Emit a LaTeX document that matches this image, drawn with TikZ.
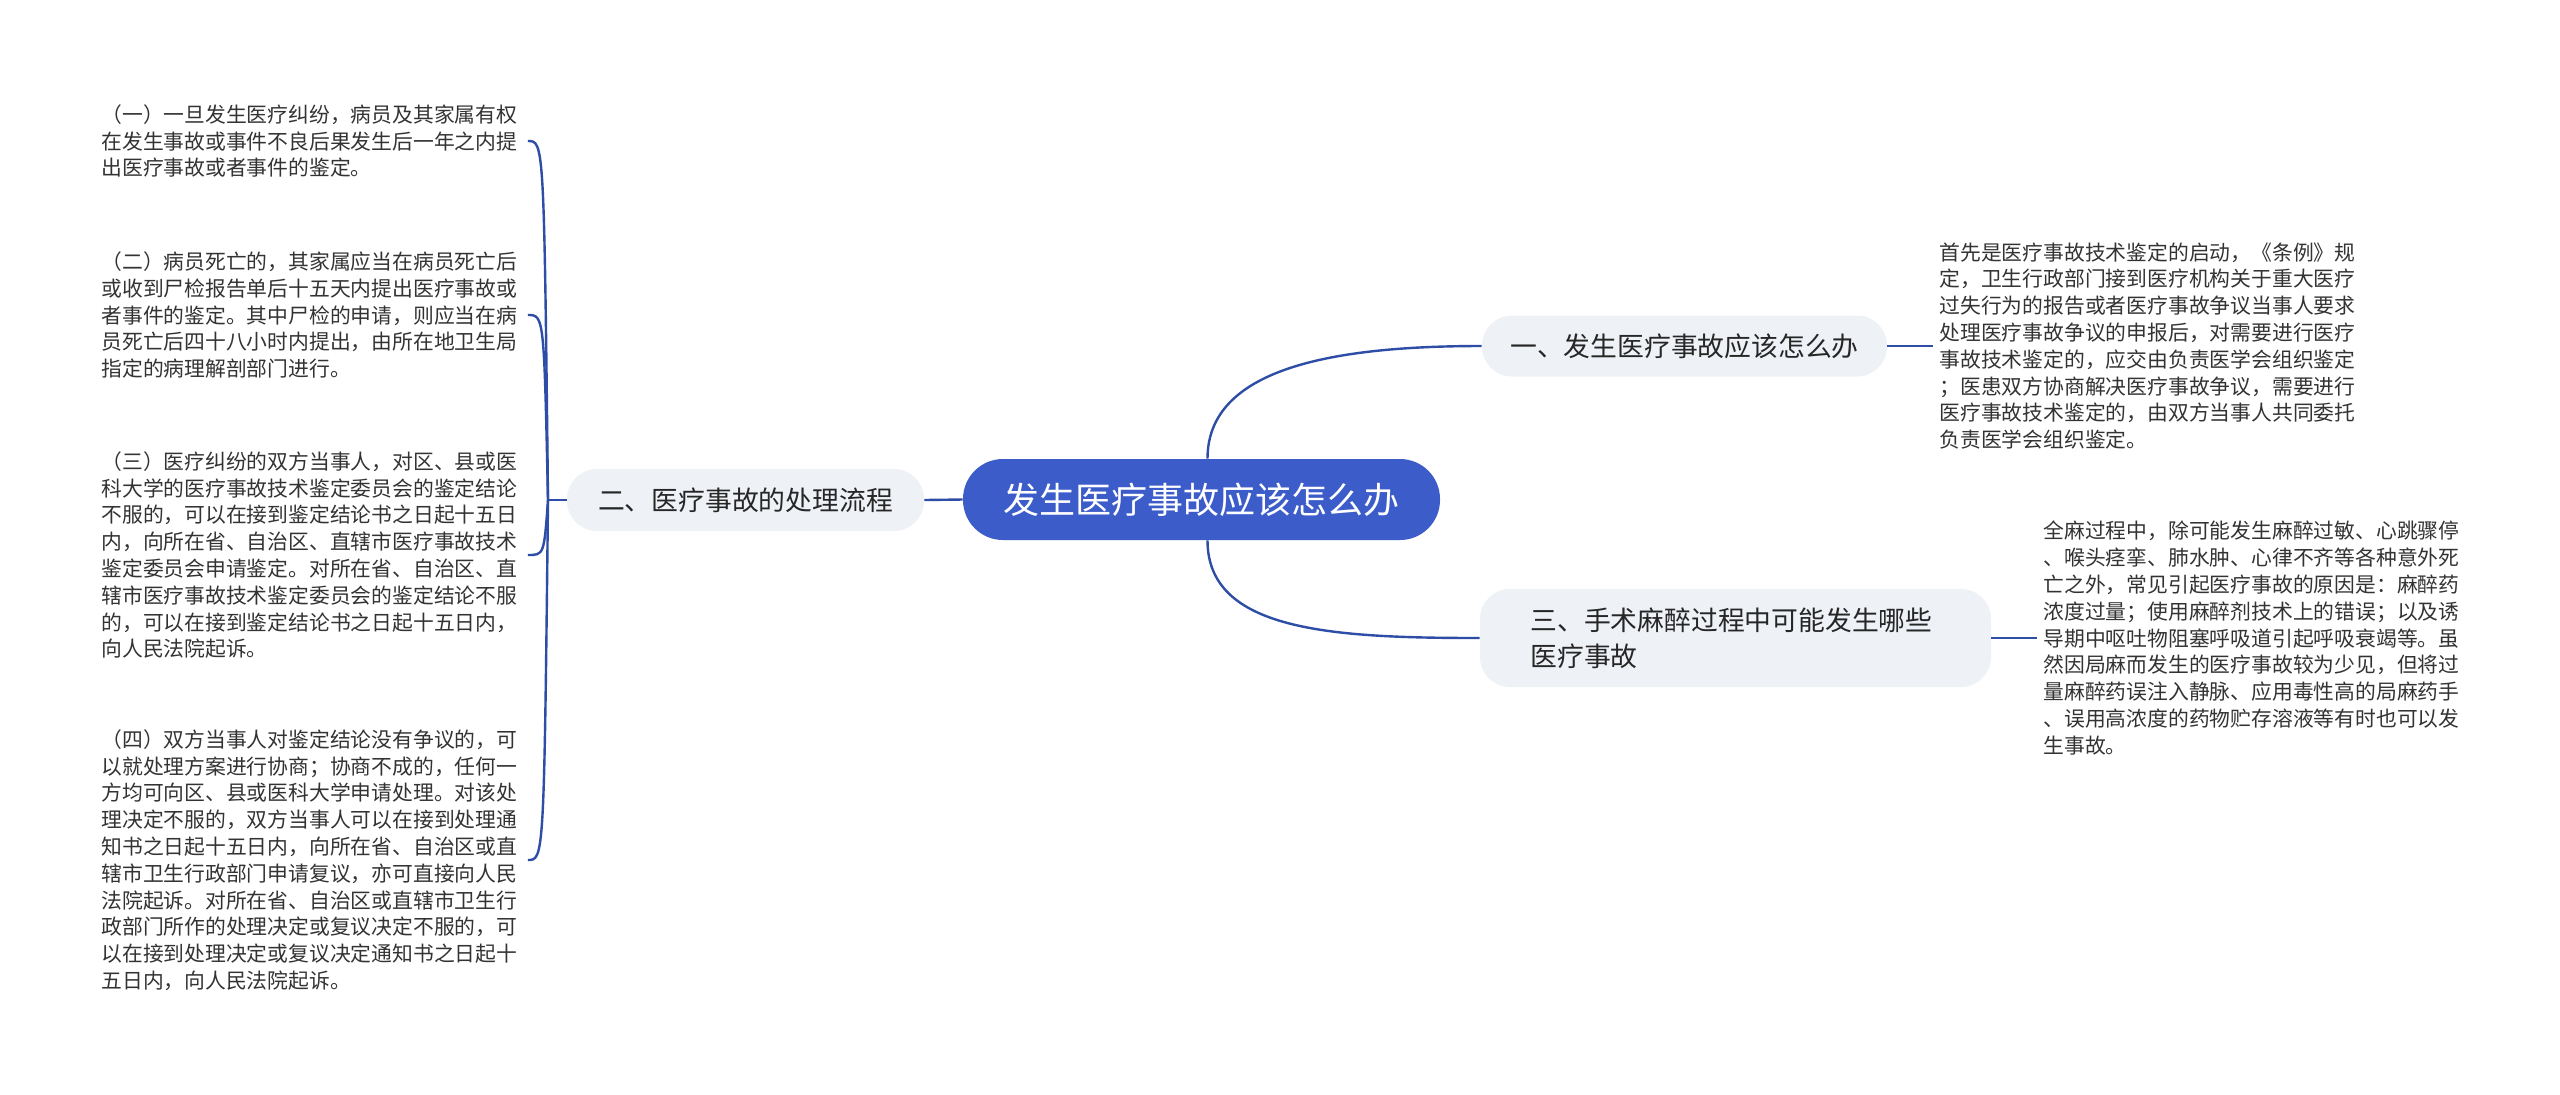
\documentclass[tikz,border=0pt]{standalone}
\usepackage{fontspec}
\setmainfont{Noto Sans CJK SC}
\definecolor{mainblue}{HTML}{3C5CCA}
\definecolor{linec}{HTML}{2E4DA7}
\definecolor{topicfill}{HTML}{EEF1F6}
\definecolor{txt}{HTML}{333333}
\begin{document}
\begin{tikzpicture}[x=0.5pt,y=0.5pt,
  link/.style={draw=linec,line width=1.2pt},
  centralbox/.style={fill=mainblue,rounded corners=20pt,minimum width=238.5pt,minimum height=40.5pt,text=white,font=\fontsize{18}{22}\selectfont,inner sep=0pt},
  topicbox/.style={fill=topicfill,rounded corners=15pt,text=black!85,font=\fontsize{13.4}{18}\selectfont,inner sep=0pt},
  leaftext/.style={text=txt,font=\fontsize{10.4}{13.4}\selectfont,align=left,text width=210pt,inner xsep=3pt,inner ysep=0pt,anchor=west}]
\useasboundingbox (0,0) rectangle (2560,-1094);
\fill[white] (0,0) rectangle (2560,-1094);

\node[centralbox] (c) at (1201.5,-499.5) {发生医疗事故应该怎么办};
\node[topicbox,minimum width=178.5pt,minimum height=31pt] (t2) at (745.5,-500) {二、医疗事故的处理流程};
\node[topicbox,minimum width=202.5pt,minimum height=30.5pt] (t1) at (1684.5,-346) {一、发生医疗事故应该怎么办};
\node[topicbox,minimum width=255.5pt,minimum height=49pt,text width=205pt,align=left] (t3) at (1735.5,-638) {三、手术麻醉过程中可能发生哪些\\医疗事故};

\node[leaftext] (l1) at (95,-141) {（一）一旦发生医疗纠纷，病员及其家属有权\\在发生事故或事件不良后果发生后一年之内提\\出医疗事故或者事件的鉴定。};
\node[leaftext] (l2) at (95,-315) {（二）病员死亡的，其家属应当在病员死亡后\\或收到尸检报告单后十五天内提出医疗事故或\\者事件的鉴定。其中尸检的申请，则应当在病\\员死亡后四十八小时内提出，由所在地卫生局\\指定的病理解剖部门进行。};
\node[leaftext] (l3) at (95,-555) {（三）医疗纠纷的双方当事人，对区、县或医\\科大学的医疗事故技术鉴定委员会的鉴定结论\\不服的，可以在接到鉴定结论书之日起十五日\\内，向所在省、自治区、直辖市医疗事故技术\\鉴定委员会申请鉴定。对所在省、自治区、直\\辖市医疗事故技术鉴定委员会的鉴定结论不服\\的，可以在接到鉴定结论书之日起十五日内，\\向人民法院起诉。};
\node[leaftext] (l4) at (95,-860) {（四）双方当事人对鉴定结论没有争议的，可\\以就处理方案进行协商；协商不成的，任何一\\方均可向区、县或医科大学申请处理。对该处\\理决定不服的，双方当事人可以在接到处理通\\知书之日起十五日内，向所在省、自治区或直\\辖市卫生行政部门申请复议，亦可直接向人民\\法院起诉。对所在省、自治区或直辖市卫生行\\政部门所作的处理决定或复议决定不服的，可\\以在接到处理决定或复议决定通知书之日起十\\五日内，向人民法院起诉。};

\node[leaftext] (r1) at (1933,-346) {首先是医疗事故技术鉴定的启动，《条例》规\\定，卫生行政部门接到医疗机构关于重大医疗\\过失行为的报告或者医疗事故争议当事人要求\\处理医疗事故争议的申报后，对需要进行医疗\\事故技术鉴定的，应交由负责医学会组织鉴定\\；医患双方协商解决医疗事故争议，需要进行\\医疗事故技术鉴定的，由双方当事人共同委托\\负责医学会组织鉴定。};
\node[leaftext] (r3) at (2037,-638) {全麻过程中，除可能发生麻醉过敏、心跳骤停\\、喉头痉挛、肺水肿、心律不齐等各种意外死\\亡之外，常见引起医疗事故的原因是：麻醉药\\浓度过量；使用麻醉剂技术上的错误；以及诱\\导期中呕吐物阻塞呼吸道引起呼吸衰竭等。虽\\然因局麻而发生的医疗事故较为少见，但将过\\量麻醉药误注入静脉、应用毒性高的局麻药手\\、误用高浓度的药物贮存溶液等有时也可以发\\生事故。};

\coordinate (j) at (548,-500);
\draw[link] (c.west) -- (t2.east);
\draw[link] ([xshift=3pt]c.north) .. controls +(0,90) and +(-150,0) .. (t1.west);
\draw[link] ([xshift=3pt]c.south) .. controls +(0,-90) and +(-150,0) .. (t3.west);
\draw[link] (t1.east) -- (r1.west);
\draw[link] (t3.east) -- (r3.west);
\draw[link] (t2.west) -- (j);
\foreach \l in {l1,l2,l3,l4}{
  \draw[link] (j) .. controls (544,0|-\l.east) and (544,0|-\l.east) .. (\l.east);
}
\end{tikzpicture}
\end{document}
